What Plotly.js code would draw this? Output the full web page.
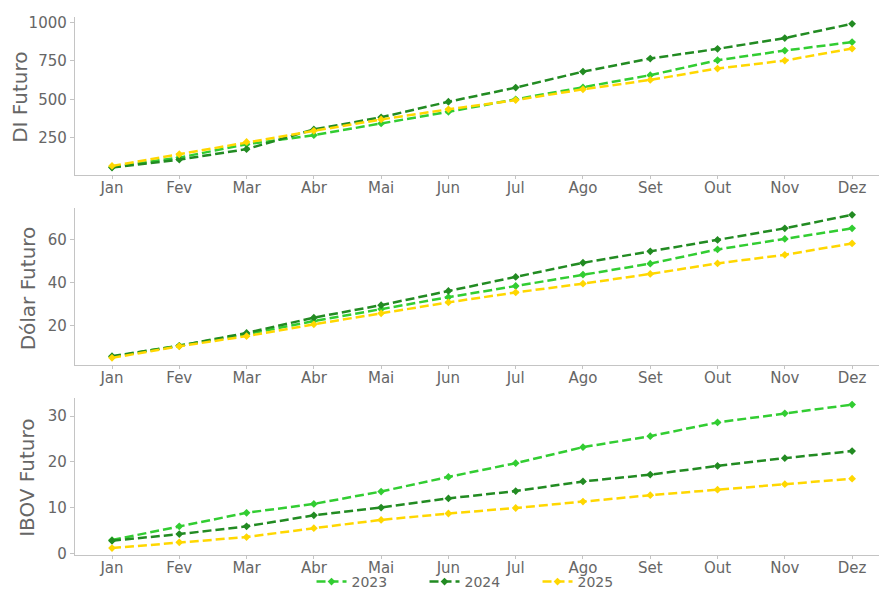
<!DOCTYPE html>
<html>
<head>
<meta charset="utf-8">
<script src="https://cdn.plot.ly/plotly-3.0.1.min.js"></script>
<style>html,body{margin:0;padding:0;background:#fff;}#chart{width:879px;height:590px;}</style>
</head>
<body>
<div id="chart"></div>
<script>
const months = ["Jan","Fev","Mar","Abr","Mai","Jun","Jul","Ago","Set","Out","Nov","Dez"];
const years = ["2023","2024","2025"];
const colors = ["#32CD32","#228B22","#FFD700"];

const di2023 = [60,121,208,267,343,419,500,578,657,754,817,872];
const di2024 = [56,108,176,304,383,484,576,680,765,828,898,991];
const di2025 = [67,143,223,295,369,435,495,565,626,700,752,830];

const dol2023 = [5.5,10.6,16.0,22.1,27.7,33.2,38.4,43.7,48.8,55.4,60.3,65.2];
const dol2024 = [5.8,10.6,16.6,23.7,29.5,36.1,42.6,49.2,54.5,59.8,65.2,71.5];
const dol2025 = [5.0,10.4,15.1,20.6,25.7,30.8,35.4,39.5,44.0,48.9,52.9,58.2];

const ibov2023 = [2.9,5.9,8.85,10.8,13.5,16.7,19.7,23.2,25.6,28.6,30.6,32.5];
const ibov2024 = [2.75,4.2,5.9,8.3,10.0,12.0,13.6,15.7,17.2,19.1,20.8,22.35];
const ibov2025 = [1.15,2.4,3.55,5.5,7.3,8.7,9.9,11.3,12.7,13.9,15.1,16.3];

const panels = [
  {title:"DI Futuro", series:[di2023,di2024,di2025], range:[8,1037], ticks:[250,500,750,1000], dom:[0.7034,0.9717], tx:20},
  {title:"Dólar Futuro", series:[dol2023,dol2024,dol2025], range:[1.7,74.8], ticks:[20,40,60], dom:[0.3814,0.6480], tx:28},
  {title:"IBOV Futuro", series:[ibov2023,ibov2024,ibov2025], range:[-0.37,34.0], ticks:[0,10,20,30], dom:[0.0593,0.3259], tx:27.5}
];

const W = 879, H = 590, ML = 75;
const tickFont = {family:"DejaVu Sans", size:15, color:"#666"};
const traces = [];
const annotations = [];
const layout = {
  width:W, height:H,
  margin:{l:ML,r:0,t:0,b:0,autoexpand:false},
  paper_bgcolor:"#fff", plot_bgcolor:"#fff",
  font:{family:"DejaVu Sans", color:"#666", size:14},
  showlegend:true,
  legend:{orientation:"h", x:0.505, xanchor:"center", y:0.0136, yanchor:"middle",
          font:{family:"DejaVu Sans", size:14, color:"#666"}, entrywidth:68, itemwidth:30,
          bgcolor:"rgba(0,0,0,0)"},
  annotations:annotations
};

panels.forEach((p,i)=>{
  const n = i===0 ? "" : String(i+1);
  p.series.forEach((s,j)=>{
    traces.push({
      x:months, y:s, type:"scatter", mode:"lines+markers",
      name:years[j], legendgroup:years[j], showlegend:i===0,
      xaxis:"x"+n, yaxis:"y"+n,
      line:{color:colors[j], width:2.5, dash:"9px,4px"},
      marker:{symbol:"diamond", size:6, color:colors[j]}
    });
  });
  layout["xaxis"+n] = {
    type:"category", range:[-0.55,11.40], anchor:"y"+n, domain:[0,1],
    showgrid:false, zeroline:false, showline:true, linecolor:"#c4c4c4", linewidth:1.2,
    ticks:"outside", ticklen:3, tickcolor:"#c4c4c4", tickfont:tickFont, ticklabelstandoff:-4
  };
  layout["yaxis"+n] = {
    range:p.range, domain:p.dom, anchor:"x"+n, tickvals:p.ticks,
    showgrid:false, zeroline:false, showline:true, linecolor:"#c4c4c4", linewidth:1.2,
    ticks:"outside", ticklen:4, tickcolor:"#c4c4c4", tickfont:tickFont
  };
  annotations.push({
    text:p.title, xref:"paper", yref:"paper",
    x:(p.tx-ML)/(W-ML), y:(p.dom[0]+p.dom[1])/2 - 2/H,
    xanchor:"center", yanchor:"middle", textangle:-90, showarrow:false,
    font:{family:"DejaVu Sans", size:20, color:"#666"}
  });
});

Plotly.newPlot("chart", traces, layout, {displayModeBar:false, staticPlot:true});
</script>
</body>
</html>
